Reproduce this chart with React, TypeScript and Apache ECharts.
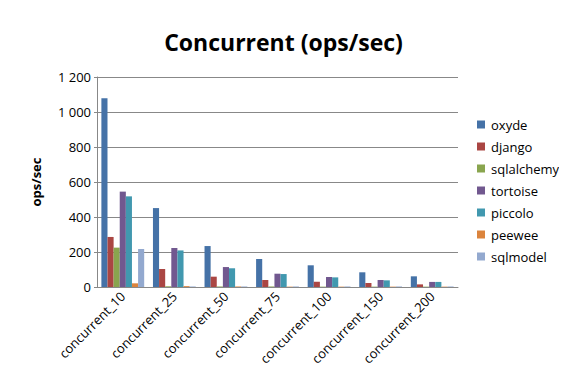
import React, { useEffect, useRef } from "react";
import * as echarts from "echarts";

const categories = ["concurrent_10", "concurrent_25", "concurrent_50", "concurrent_75", "concurrent_100", "concurrent_150", "concurrent_200"];
const oxyde = [1078, 451, 234, 160, 124, 84, 61];
const django = [286, 103, 59, 40, 30, 23, 15];
const sqlalchemy = [225, 4, 3, 3, 2, 2, 2];
const tortoise = [545, 223, 114, 76, 57, 40, 29];
const piccolo = [518, 209, 107, 74, 55, 38, 29];
const peewee = [21, 5, 3, 2, 2, 2, 2];
const sqlmodel = [217, 3, 3, 3, 3, 3, 3];

const seriesNames = ["oxyde", "django", "sqlalchemy", "tortoise", "piccolo", "peewee", "sqlmodel"];
const seriesData = [oxyde, django, sqlalchemy, tortoise, piccolo, peewee, sqlmodel];
const colors = ["#4572A7", "#AA4643", "#89A54E", "#71588F", "#4198AF", "#DB843D", "#93A9CF"];

const FONT = "Open Sans";

export default function App() {
  const ref = useRef<HTMLDivElement>(null);
  useEffect(() => {
    const chart = echarts.init(ref.current!, null, { renderer: "svg" });
    chart.setOption({
      animation: false,
      color: colors,
      textStyle: { fontFamily: FONT },
      title: {
        text: "Concurrent (ops/sec)",
        left: "center",
        top: 25,
        textStyle: { fontFamily: FONT, fontSize: 23, fontWeight: "bold", color: "#000" },
      },
      legend: {
        orient: "vertical",
        left: 472,
        top: 113,
        itemWidth: 8,
        itemHeight: 8,
        itemGap: 9,
        icon: "rect",
        textStyle: { fontFamily: FONT, fontSize: 13, color: "#000", padding: [0, 0, 0, 1] },
        data: seriesNames,
      },
      grid: { left: 97, right: 109, top: 77, bottom: 91, containLabel: false },
      xAxis: {
        type: "category",
        data: categories,
        axisLine: { lineStyle: { color: "#888", width: 1 } },
        axisTick: { show: false },
        axisLabel: { rotate: 45, fontFamily: FONT, fontSize: 13, color: "#000", margin: 7, interval: 0 },
      },
      yAxis: {
        type: "value",
        min: 0,
        max: 1200,
        interval: 200,
        name: "ops/sec",
        nameLocation: "middle",
        nameGap: 55,
        nameRotate: 90,
        nameTextStyle: { fontFamily: FONT, fontSize: 13, fontWeight: "bold", color: "#000" },
        axisLine: { show: true, lineStyle: { color: "#888", width: 1 } },
        axisTick: { show: true, inside: false, length: 3, lineStyle: { color: "#888" } },
        splitLine: { lineStyle: { color: "#888", width: 1 } },
        axisLabel: {
          fontFamily: FONT,
          fontSize: 13,
          color: "#000",
          margin: 6,
          formatter: (v: number) => String(v).replace(/\B(?=(\d{3})+(?!\d))/g, " "),
        },
      },
      series: seriesNames.map((name, i) => ({
        name,
        type: "bar",
        data: seriesData[i],
        barGap: "0%",
        barCategoryGap: "17%",
        itemStyle: { color: colors[i] },
      })),
    });
    return () => chart.dispose();
  }, []);
  return <div ref={ref} style={{ width: 567, height: 378, margin: -8 }} />;
}
